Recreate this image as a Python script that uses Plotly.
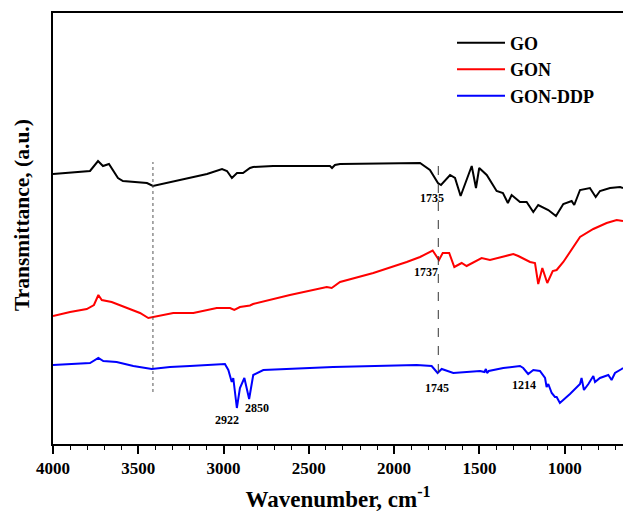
import plotly.graph_objects as go

# ---------------- data (wavenumber in cm^-1, transmittance in arbitrary units) ----------------
go_wn = [4000, 3783, 3736, 3707, 3672, 3619, 3590, 3490, 3449, 3414, 3314, 3197, 3097, 3009, 2980,
         2951, 2921, 2886, 2845, 2827, 2710, 2376, 2364, 2347, 2317, 1848, 1790, 1743, 1725, 1672,
         1643, 1610, 1575, 1545, 1520, 1501, 1457, 1399, 1362, 1333, 1311, 1262, 1223, 1184, 1155,
         1096, 1051, 1008, 959, 944, 910, 852, 818, 793, 734, 675, 658]
go_t = [270, 273, 283, 278, 280, 266, 263, 262, 261, 258, 262, 266, 270, 275, 273,
        266, 271, 271, 276, 277, 278, 278, 276, 279, 280, 281, 274, 261, 259, 269,
        266, 248, 264, 278, 256, 276, 269, 253, 251, 241, 249, 242, 242, 232, 239,
        234, 228, 240, 243, 239, 254, 256, 247, 253, 256, 257, 256]

gon_wn = [4000, 3900, 3802, 3760, 3734, 3714, 3656, 3568, 3490, 3441, 3412, 3295, 3177, 3040, 2962,
          2937, 2904, 2845, 2827, 2611, 2395, 2366, 2317, 2122, 1926, 1848, 1774, 1737, 1715, 1677,
          1647, 1604, 1575, 1487, 1438, 1301, 1272, 1203, 1174, 1155, 1131, 1102, 1070, 1047, 1008,
          910, 832, 754, 695, 658]
gon_t = [128, 132, 135, 139, 149, 144, 142, 136, 131, 126, 127, 131, 131, 136, 136,
         134, 137, 138.5, 140, 149, 157, 156, 162, 171, 182, 187, 193.5, 184, 191, 191,
         177, 181, 178, 186, 184, 190, 188, 182, 181, 160, 176, 161, 173, 174, 182,
         207, 215, 221, 224, 223]

ddp_wn = [4000, 3783, 3734, 3705, 3627, 3529, 3421, 3314, 3197, 2992, 2972, 2952, 2943, 2922, 2904,
          2878, 2850, 2826, 2767, 2435, 2358, 1868, 1780, 1745, 1721, 1653, 1496, 1470, 1462, 1455,
          1445, 1360, 1262, 1243, 1214, 1184, 1145, 1115, 1106, 1096, 1076, 1057, 1047, 1028, 969,
          910, 901, 887, 861, 832, 822, 793, 744, 725, 705, 666, 658]
ddp_t = [79, 81, 86, 83, 82, 78, 75, 77, 78, 80, 74, 62, 66, 36, 56,
         66, 45, 69, 74, 76, 77, 79, 78, 71, 75, 71, 73, 72, 75, 71,
         73, 76, 78, 76, 70, 74, 73, 66, 57, 60, 51, 47, 47, 41, 50,
         60, 66, 54, 60, 68, 62, 66, 69, 64, 71, 75, 76]

series_names = ["GO", "GON", "GON-DDP"]

# reference lines (wavenumber, bottom, top)
dotted_line = [3414, 52, 282]
dashed_line = [1741, 71, 278]

# peak labels
peak_labels = ["1735", "1737", "1745", "1214", "2922", "2850"]
peak_x = [1780, 1813, 1747, 1237, 2982, 2806]
peak_y = [246, 172, 56, 59, 24, 36]

x_ticks = [4000, 3500, 3000, 2500, 2000, 1500, 1000]

# ---------------- figure ----------------
FONT = "Liberation Serif, Times New Roman, serif"
colors = ["#000000", "#ff0000", "#0000ff"]

fig = go.Figure()
for name, xs, ys, c in zip(series_names, [go_wn, gon_wn, ddp_wn], [go_t, gon_t, ddp_t], colors):
    fig.add_trace(go.Scatter(x=xs, y=ys, mode="lines", name=name,
                             line=dict(color=c, width=2)))

fig.add_shape(type="line", xref="x", yref="y",
              x0=dotted_line[0], x1=dotted_line[0], y0=dotted_line[1], y1=dotted_line[2],
              line=dict(color="#555555", width=1, dash="dot"))
fig.add_shape(type="line", xref="x", yref="y",
              x0=dashed_line[0], x1=dashed_line[0], y0=dashed_line[1], y1=dashed_line[2],
              line=dict(color="#333333", width=1, dash="dash"))

for t, x, y in zip(peak_labels, peak_x, peak_y):
    fig.add_annotation(x=x, y=y, xref="x", yref="y", text=t, showarrow=False,
                       font=dict(family=FONT, size=12, color="#000000", weight="bold"))

fig.add_annotation(x=(22 - 53) / 570, y=(444 - 215) / 431, xref="paper", yref="paper",
                   text="Transmittance, (a.u.)", showarrow=False, textangle=-90,
                   xanchor="center", yanchor="middle",
                   font=dict(family=FONT, size=21.5, color="#000000", weight="bold"))

fig.update_layout(
    width=623, height=512,
    margin=dict(l=53, r=0, t=13, b=68),
    paper_bgcolor="white", plot_bgcolor="white",
    font=dict(family=FONT, color="#000000"),
    showlegend=True,
    legend=dict(x=0.70, y=0.973, xanchor="left", yanchor="top",
                bgcolor="rgba(0,0,0,0)", itemwidth=48,
                font=dict(family=FONT, size=18, color="#000000", weight="bold")),
    xaxis=dict(range=[4000, 658], tickvals=x_ticks, ticktext=[str(v) for v in x_ticks],
               ticks="outside", ticklen=8, tickwidth=1.5, tickcolor="#000000",
               minor=dict(dtick=100, ticks="outside", ticklen=4, tickwidth=1.2, tickcolor="#000000"),
               showline=True, linecolor="#000000", linewidth=2, mirror=True,
               showgrid=False, zeroline=False,
               tickfont=dict(family=FONT, size=17, color="#000000", weight="bold"),
               title=dict(text="Wavenumber, cm<sup>-1</sup>", standoff=16,
                          font=dict(family=FONT, size=23, color="#000000", weight="bold"))),
    yaxis=dict(range=[0, 431], showticklabels=False, ticks="",
               showline=True, linecolor="#000000", linewidth=2, mirror=False,
               showgrid=False, zeroline=False),
)

fig.write_html("out.html")
